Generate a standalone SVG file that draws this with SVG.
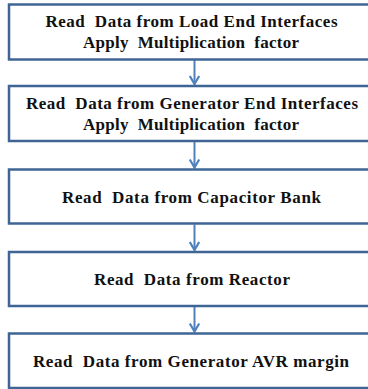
<svg xmlns="http://www.w3.org/2000/svg" width="368" height="389" viewBox="0 0 368 389">
<style>
.box{fill:#ffffff;stroke:#3f6597;stroke-width:2.5}
.t{font-family:"Liberation Serif","Times New Roman",serif;font-weight:bold;font-size:17px;fill:#111111;text-anchor:middle;white-space:pre}
.c{stroke:#4f81bd;stroke-width:2;fill:none}
</style>
<defs>
<marker id="ah" markerWidth="14" markerHeight="14" refX="11" refY="7" orient="auto" markerUnits="userSpaceOnUse" viewBox="0 0 14 14" overflow="visible">
<path d="M3,2.3 L11,7 L3,11.7" fill="none" stroke="#4f81bd" stroke-width="2.2"/>
</marker>
</defs>
<rect width="368" height="389" fill="#ffffff"/>
<g id="connectors">
<line class="c" x1="194.5" y1="60" x2="194.5" y2="84" marker-end="url(#ah)"/>
<line class="c" x1="194.5" y1="142" x2="194.5" y2="167.5" marker-end="url(#ah)"/>
<line class="c" x1="194.5" y1="224.5" x2="194.5" y2="250" marker-end="url(#ah)"/>
<line class="c" x1="194.5" y1="307" x2="194.5" y2="331.5" marker-end="url(#ah)"/>
</g>
<g id="node1">
<rect class="box" x="9" y="4.5" width="370" height="55"/>
<text class="t" x="191.5" y="27" textLength="292" lengthAdjust="spacing">Read  Data from Load End Interfaces</text>
<text class="t" x="191" y="48" textLength="216" lengthAdjust="spacing">Apply  Multiplication  factor</text>
</g>
<g id="node2">
<rect class="box" x="9" y="86" width="370" height="55"/>
<text class="t" x="192" y="109" textLength="332" lengthAdjust="spacing">Read  Data from Generator End Interfaces</text>
<text class="t" x="191" y="130" textLength="216" lengthAdjust="spacing">Apply  Multiplication  factor</text>
</g>
<g id="node3">
<rect class="box" x="9" y="169.5" width="370" height="54"/>
<text class="t" x="191.5" y="202.5" textLength="259" lengthAdjust="spacing">Read  Data from Capacitor Bank</text>
</g>
<g id="node4">
<rect class="box" x="9" y="252" width="370" height="54"/>
<text class="t" x="192" y="285" textLength="196" lengthAdjust="spacing">Read  Data from Reactor</text>
</g>
<g id="node5">
<rect class="box" x="9" y="333.5" width="370" height="54.5"/>
<text class="t" x="191" y="367" textLength="316" lengthAdjust="spacing">Read  Data from Generator AVR margin</text>
</g>
</svg>
